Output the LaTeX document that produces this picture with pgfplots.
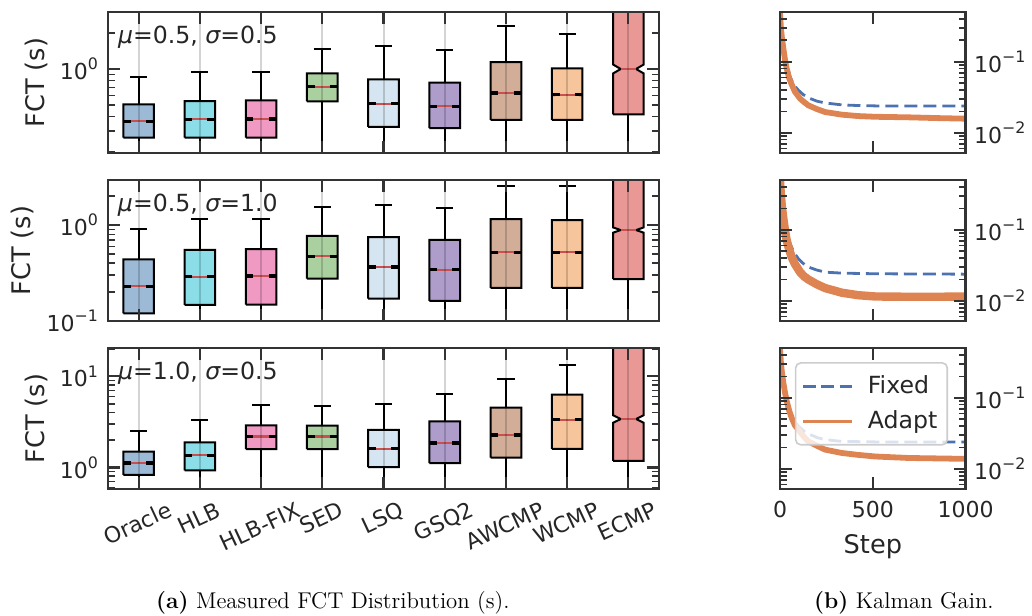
\documentclass[border=0pt]{standalone}
\usepackage{fontspec}
\usepackage{graphicx}
\usepackage{pgfplots}
\usepackage{pgfplotstable}
\pgfplotsset{compat=1.18}
\newfontfamily\dv{DejaVu Sans}
\definecolor{axc}{HTML}{333333}
\definecolor{txc}{HTML}{262626}
\definecolor{cOra}{HTML}{9CBAD6}
\definecolor{cHLB}{HTML}{8BDDE8}
\definecolor{cFIX}{HTML}{EF99C3}
\definecolor{cSED}{HTML}{ABD0A0}
\definecolor{cLSQ}{HTML}{D5E5F1}
\definecolor{cGSQ}{HTML}{AE9CCB}
\definecolor{cAWC}{HTML}{D2AE98}
\definecolor{cWCM}{HTML}{F7C59B}
\definecolor{cECM}{HTML}{E99896}
\definecolor{cMed}{HTML}{C8504F}
\definecolor{cFix}{HTML}{4C72B0}
\definecolor{cAda}{HTML}{DD8452}
\newcommand\axf{\dv\fontsize{11}{13.2}\selectfont}
\newcommand\anf{\dv\fontsize{11.8}{14}\selectfont}
\newcommand\laf{\dv\fontsize{12.8}{15}\selectfont}
\newcommand\tp[1]{10\raisebox{0.45em}{\fontsize{7.9}{9}\selectfont #1}}
\newcommand\xl[1]{\rotatebox{25}{\rule[-2.6pt]{0pt}{11pt}#1}}
% box: #1 x, #2 lower whisker, #3 q1, #4 median, #5 q3, #6 upper whisker, #7 notch factor, #8 colour, #9 median bar colour
\newcommand\nbox[9]{%
\pgfmathsetmacro\bxL{#1-0.25}%
\pgfmathsetmacro\bxR{#1+0.25}%
\pgfmathsetmacro\bnL{#1-0.125}%
\pgfmathsetmacro\bnR{#1+0.125}%
\pgfmathsetmacro\bcL{#1-0.14}%
\pgfmathsetmacro\bcR{#1+0.14}%
\pgfmathsetmacro\bnlo{#4/#7}%
\pgfmathsetmacro\bnhi{#4*#7}%
\edef\bdo{%
\noexpand\addplot[draw=black,line width=1pt] coordinates {(#1,#2) (#1,#3)};%
\noexpand\addplot[draw=black,line width=1pt] coordinates {(#1,#5) (#1,#6)};%
\noexpand\addplot[draw=black,line width=1pt] coordinates {(\bcL,#6) (\bcR,#6)};%
\noexpand\addplot[fill=#8,draw=black,line width=1pt] coordinates {(\bxL,#3) (\bxR,#3) (\bxR,\bnlo) (\bnR,#4) (\bxR,\bnhi) (\bxR,#5) (\bxL,#5) (\bxL,\bnhi) (\bnL,#4) (\bxL,\bnlo) (\bxL,#3)};%
\noexpand\addplot[draw=#9,line width=1.7pt] coordinates {(\bxL,#4) (\bnL,#4)};%
\noexpand\addplot[draw=#9,line width=1.7pt] coordinates {(\bnR,#4) (\bxR,#4)};%
\noexpand\addplot[draw=cMed,line width=1.1pt] coordinates {(\bnL,#4) (\bnR,#4)};%
}\bdo}

\pgfplotstableread{
x y
0 0.48
5 0.36
10 0.28
18 0.19
27 0.124
40 0.085
54 0.0614
75 0.047
99 0.0397
125 0.0345
153 0.031
200 0.0278
243 0.0263
333 0.0247
420 0.0242
514 0.0239
700 0.0239
1000 0.0239
}\fixA
\pgfplotstableread{
x y
0 0.48
5 0.295
10 0.22
18 0.154
27 0.105
36 0.080
50 0.058
63 0.0478
80 0.038
108 0.0303
130 0.027
153 0.0243
200 0.0215
243 0.0196
333 0.018
420 0.0172
514 0.0168
694 0.0165
850 0.0161
1000 0.0158
}\adaA
\pgfplotstableread{
x y
0 0.48
5 0.36
10 0.27
18 0.18
27 0.115
40 0.082
54 0.0636
75 0.048
99 0.039
125 0.0335
153 0.0298
200 0.027
243 0.0253
333 0.0245
514 0.024
1000 0.0237
}\fixB
\pgfplotstableread{
x y
0 0.48
5 0.30
10 0.21
18 0.143
27 0.097
36 0.0707
50 0.052
63 0.0411
80 0.033
108 0.0253
130 0.022
153 0.0199
200 0.017
243 0.0151
333 0.013
420 0.012
514 0.0115
694 0.0114
850 0.0114
1000 0.0115
}\adaB
\pgfplotstableread{
x y
0 0.48
5 0.36
10 0.28
18 0.19
27 0.124
40 0.085
54 0.062
75 0.047
99 0.04
125 0.0345
153 0.031
200 0.0275
243 0.0257
333 0.0243
514 0.0239
1000 0.0239
}\fixC
\pgfplotstableread{
x y
0 0.48
5 0.31
10 0.23
18 0.163
27 0.118
36 0.0896
50 0.065
63 0.052
80 0.041
108 0.033
130 0.028
153 0.0243
200 0.021
243 0.0186
333 0.0167
420 0.0157
514 0.0149
694 0.0142
850 0.014
1000 0.0138
}\adaC

\pgfplotsset{
  fctleft/.style={
    scale only axis, axis on top,
    axis line style={draw=axc, line width=1.3pt},
    tick align=inside, xtick pos=both, ytick pos=both,
    major tick length=5.8pt, minor tick length=3.4pt,
    every tick/.style={draw=axc, line width=1.1pt},
    every minor tick/.style={draw=axc, line width=0.8pt},
    every tick label/.append style={font=\axf, text=txc},
    every axis label/.append style={font=\laf, text=txc},
    width=275.5pt, height=70.5pt,
    xmin=0.5, xmax=9.5, xtick={1,2,3,4,5,6,7,8,9}, xticklabels={},
    xmajorgrids, major grid style={line width=1pt, draw=black, draw opacity=0.17},
    yticklabel style={inner sep=0pt, xshift=-4.8pt},
    ylabel={FCT (s)}, ylabel style={inner sep=0pt}, ylabel shift=6pt,
  },
  kalman/.style={
    scale only axis, axis on top,
    axis line style={draw=axc, line width=1.3pt},
    tick align=inside, xtick pos=both, ytick pos=both,
    major tick length=5.8pt, minor tick length=3.4pt,
    every tick/.style={draw=axc, line width=1.1pt},
    every minor tick/.style={draw=axc, line width=0.8pt},
    every tick label/.append style={font=\axf, text=txc},
    every axis label/.append style={font=\laf, text=txc},
    width=92.85pt, height=70.5pt,
    xmin=0, xmax=1000, xtick={0,500,1000}, xticklabels={},
    ymin=0.0052, ymax=0.5, ytick={0.01,0.1}, yticklabels={\tp{−2},\tp{−1}},
    minor ytick={0.006,0.007,0.008,0.009,0.02,0.03,0.04,0.05,0.06,0.07,0.08,0.09,0.2,0.3,0.4},
    yticklabel pos=right,
    yticklabel style={inner sep=0pt, xshift=4pt},
  },
}

\begin{document}
\begin{tikzpicture}
\path[use as bounding box] (0,0) rectangle (516pt,-307.5pt);

% ---------- row 1 left
\begin{axis}[ymode=log, fctleft, at={(54pt,-6pt)}, anchor=north west,
  ymin=0.197, ymax=3.01, ytick={1}, yticklabels={\tp{0}},
  minor ytick={0.2,0.3,0.4,0.5,0.6,0.7,0.8,0.9,2,3}]
\nbox{1}{0.1}{0.265}{0.363}{0.505}{0.862}{1.004}{cOra}{black}
\nbox{2}{0.1}{0.265}{0.378}{0.538}{0.944}{1.004}{cHLB}{black}
\nbox{3}{0.1}{0.265}{0.380}{0.545}{0.949}{1.004}{cFIX}{black}
\nbox{4}{0.1}{0.535}{0.710}{0.920}{1.47}{1.004}{cSED}{black}
\nbox{5}{0.1}{0.326}{0.511}{0.819}{1.56}{1.004}{cLSQ}{black}
\nbox{6}{0.1}{0.318}{0.486}{0.767}{1.43}{1.004}{cGSQ}{black}
\nbox{7}{0.1}{0.373}{0.629}{1.14}{2.31}{1.01}{cAWC}{black}
\nbox{8}{0.1}{0.373}{0.608}{1.01}{1.98}{1.01}{cWCM}{black}
\nbox{9}{0.1}{0.416}{1.0}{5}{20}{1.09}{cECM}{none}
\node[anchor=north west, inner sep=0pt, font=\anf, text=txc, xshift=4.8pt, yshift=-7pt] at (rel axis cs:0,1) {{\itshape μ}=0.5, {\itshape σ}=0.5};
\end{axis}

% ---------- row 2 left
\begin{axis}[ymode=log, fctleft, at={(54pt,-90pt)}, anchor=north west,
  ymin=0.1, ymax=2.95, ytick={0.1,1}, yticklabels={\tp{−1},\tp{0}},
  minor ytick={0.2,0.3,0.4,0.5,0.6,0.7,0.8,0.9,2}]
\nbox{1}{0.05}{0.120}{0.230}{0.440}{0.90}{1.004}{cOra}{black}
\nbox{2}{0.05}{0.147}{0.290}{0.550}{1.155}{1.004}{cHLB}{black}
\nbox{3}{0.05}{0.148}{0.294}{0.562}{1.17}{1.004}{cFIX}{black}
\nbox{4}{0.05}{0.276}{0.472}{0.774}{1.53}{1.004}{cSED}{black}
\nbox{5}{0.05}{0.171}{0.365}{0.750}{1.63}{1.004}{cLSQ}{black}
\nbox{6}{0.05}{0.162}{0.343}{0.703}{1.49}{1.004}{cGSQ}{black}
\nbox{7}{0.05}{0.222}{0.519}{1.155}{2.57}{1.01}{cAWC}{black}
\nbox{8}{0.05}{0.221}{0.519}{1.127}{2.55}{1.01}{cWCM}{black}
\nbox{9}{0.05}{0.274}{0.887}{5}{20}{1.065}{cECM}{none}
\node[anchor=north west, inner sep=0pt, font=\anf, text=txc, xshift=4.8pt, yshift=-7pt] at (rel axis cs:0,1) {{\itshape μ}=0.5, {\itshape σ}=1.0};
\end{axis}

% ---------- row 3 left
\begin{axis}[ymode=log, fctleft, at={(54pt,-174pt)}, anchor=north west,
  ymin=0.579, ymax=20.5, ytick={1,10}, yticklabels={\tp{0},\tp{1}},
  minor ytick={0.6,0.7,0.8,0.9,2,3,4,5,6,7,8,9,20},
  xticklabels={\xl{Oracle},\xl{HLB},\xl{HLB-FIX},\xl{SED},\xl{LSQ},\xl{GSQ2},\xl{AWCMP},\xl{WCMP},\xl{ECMP}},
  xticklabel style={anchor=north, inner sep=0pt, yshift=-5.5pt}]
\nbox{1}{0.3}{0.83}{1.117}{1.49}{2.49}{1.004}{cOra}{black}
\nbox{2}{0.3}{0.927}{1.355}{1.88}{3.34}{1.004}{cHLB}{black}
\nbox{3}{0.3}{1.59}{2.19}{2.89}{4.89}{1.004}{cFIX}{black}
\nbox{4}{0.3}{1.59}{2.19}{2.87}{4.76}{1.004}{cSED}{black}
\nbox{5}{0.3}{1.01}{1.605}{2.59}{5.01}{1.004}{cLSQ}{black}
\nbox{6}{0.3}{1.117}{1.85}{3.2}{6.4}{1.004}{cGSQ}{black}
\nbox{7}{0.3}{1.28}{2.27}{4.53}{9.44}{1.01}{cAWC}{black}
\nbox{8}{0.3}{1.6}{3.35}{6.3}{13.2}{1.01}{cWCM}{black}
\nbox{9}{0.3}{1.18}{3.4}{40}{100}{1.1}{cECM}{none}
\node[anchor=north west, inner sep=0pt, font=\anf, text=txc, xshift=4.8pt, yshift=-7pt] at (rel axis cs:0,1) {{\itshape μ}=1.0, {\itshape σ}=0.5};
\end{axis}

% ---------- right panels
\begin{axis}[ymode=log, kalman, at={(390pt,-6pt)}, anchor=north west]
\addplot[cFix, line width=1.4pt, dash pattern=on 6.5pt off 3pt] table {\fixA};
\addplot[cAda, line width=2.9pt] table {\adaA};
\end{axis}

\begin{axis}[ymode=log, kalman, at={(390pt,-90pt)}, anchor=north west]
\addplot[cFix, line width=1.4pt, dash pattern=on 6.5pt off 3pt] table {\fixB};
\addplot[cAda, line width=4.2pt] table {\adaB};
\end{axis}

\begin{axis}[ymode=log, kalman, at={(390pt,-174pt)}, anchor=north west,
  xticklabels={0,500,1000},
  xticklabel style={anchor=north, inner sep=0pt, yshift=-6pt},
  xlabel={Step}, xlabel style={inner sep=0pt}, xlabel shift=8pt,
  legend style={at={(0.08,0.90)}, anchor=north west, fill=white, fill opacity=0.8,
    draw opacity=1, text opacity=1, draw=black!20, rounded corners=2.5pt, line width=0.8pt,
    font=\anf, text=txc, inner xsep=3pt, inner ysep=4.5pt, row sep=3pt,
    /tikz/every odd column/.append style={column sep=5pt}},
  legend cell align=left,
  legend image code/.code={\draw[#1] (0pt,0pt) -- (24.5pt,0pt);}]
\addlegendimage{cFix, line width=1.4pt, dash pattern=on 6.3pt off 2.8pt}
\addlegendentry{Fixed}
\addlegendimage{cAda, line width=1.6pt}
\addlegendentry{Adapt}
\addplot[cFix, line width=1.4pt, dash pattern=on 6.5pt off 3pt, forget plot] table {\fixC};
\addplot[cAda, line width=2.9pt, forget plot] table {\adaC};
\end{axis}

\node[font=\fontsize{11.4}{13.5}\selectfont, anchor=base east, inner sep=0pt] at (255pt,-304.15pt) {\textbf{(a)} Measured FCT Distribution (s).};
\node[font=\fontsize{11.4}{13.5}\selectfont, anchor=base east, inner sep=0pt] at (497pt,-304.15pt) {\textbf{(b)} Kalman Gain.};
\end{tikzpicture}
\end{document}
